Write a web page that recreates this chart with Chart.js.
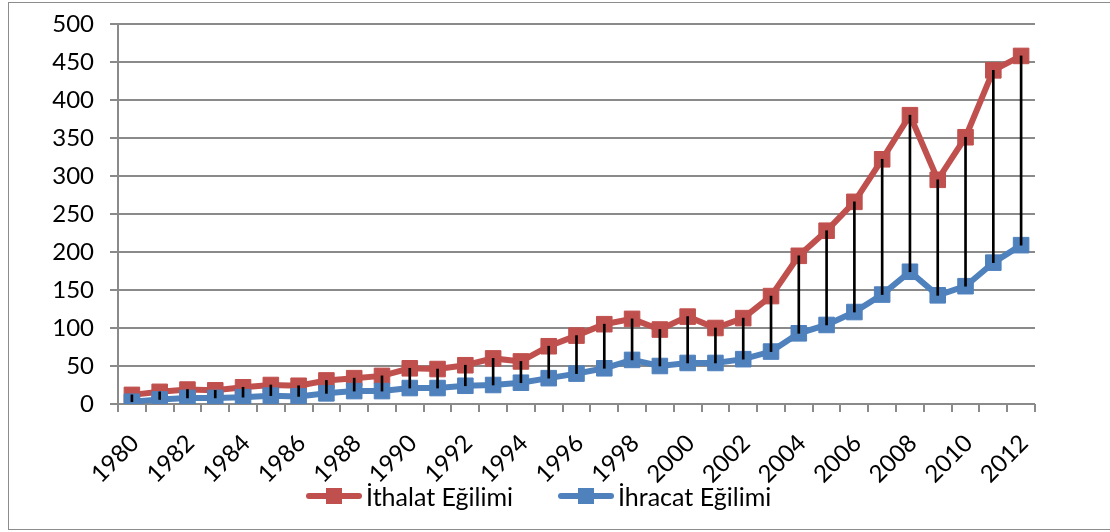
<!DOCTYPE html>
<html>
<head>
<meta charset="utf-8">
<script src="https://cdn.jsdelivr.net/npm/chart.js@4/dist/chart.umd.min.js"></script>
<style>
  html, body { margin: 0; padding: 0; background: #fff; }
  #wrap { position: relative; width: 1110px; height: 532px; overflow: hidden; font-family: Lato, sans-serif; }
  #frame { position: absolute; left: 8px; top: 2px; width: 1120px; height: 528px; border: 1px solid #8c8c8c; box-sizing: border-box; }
  #chart { position: absolute; left: 0; top: 0; }
  #legend { position: absolute; left: 306px; top: 481px; display: flex; align-items: center; font-size: 25px; color: #000; }
  .item { display: flex; align-items: center; }
  .key { position: relative; width: 56px; height: 6px; border-radius: 3px; margin-right: 4px; }
  .key span { position: absolute; left: 20px; top: -5px; width: 16px; height: 16px; }
</style>
</head>
<body>
<div id="wrap">
  <div id="frame"></div>
  <canvas id="chart" width="1110" height="532"></canvas>
  <div id="legend">
    <div class="item" style="width:252px"><div class="key" style="background:#C0504D"><span style="background:#C0504D"></span></div>İthalat Eğilimi</div>
    <div class="item"><div class="key" style="background:#4F81BD"><span style="background:#4F81BD"></span></div>İhracat Eğilimi</div>
  </div>
</div>
<script>
const years = [];
for (let y = 1980; y <= 2012; y++) years.push(String(y));

const ithalat = [12, 16, 19, 18, 22, 25, 24, 31, 34, 37, 47, 46, 51, 60, 56, 76, 90, 105, 112, 98, 115, 100, 113, 142, 195, 228, 266, 322, 380, 295, 351, 439, 458];
const ihracat = [3, 6, 8, 8, 9, 11, 10, 14, 17, 17, 21, 21, 24, 25, 28, 34, 40, 47, 58, 50, 54, 54, 59, 69, 93, 104, 121, 144, 174, 143, 155, 186, 209];

const yTicks = [0, 50, 100, 150, 200, 250, 300, 350, 400, 450, 500];

const RED = "#C0504D";
const BLUE = "#4F81BD";
const GRID = "#8a8a8a";

// high-low lines between the two series
const hiLow = ithalat.map((v, i) => [ihracat[i], v]);

const ctx = document.getElementById("chart").getContext("2d");
new Chart(ctx, {
  data: {
    labels: years,
    datasets: [
      {
        type: "bar",
        label: "hl",
        data: hiLow,
        backgroundColor: "#000",
        barThickness: 2,
        order: 0,
      },
      {
        type: "line",
        label: "İthalat Eğilimi",
        data: ithalat,
        borderColor: RED,
        backgroundColor: RED,
        borderWidth: 6,
        pointStyle: "rect",
        pointRadius: 11,
        pointBorderWidth: 1,
        tension: 0,
        order: 2,
      },
      {
        type: "line",
        label: "İhracat Eğilimi",
        data: ihracat,
        borderColor: BLUE,
        backgroundColor: BLUE,
        borderWidth: 6,
        pointStyle: "rect",
        pointRadius: 11,
        pointBorderWidth: 1,
        tension: 0,
        order: 1,
      },
    ],
  },
  options: {
    responsive: false,
    animation: false,
    layout: { padding: { left: 20, top: 24, right: 75, bottom: 0 } },
    plugins: {
      legend: { display: false },
      tooltip: { enabled: false },
    },
    scales: {
      x: {
        offset: true,
        grid: {
          offset: true,
          drawOnChartArea: false,
          drawTicks: true,
          tickLength: 8,
          color: GRID,
          lineWidth: 2,
        },
        border: { display: false },
        ticks: {
          autoSkip: false,
          maxRotation: 45,
          minRotation: 45,
          padding: 17,
          labelOffset: 3,
          color: "#000",
          font: { family: "Lato", size: 24 },
          callback: (v, i) => (i % 2 === 0 ? years[i] : ""),
        },
        afterFit: (s) => {
          s.height = 128;
          s.paddingLeft = 0;
          s.paddingRight = 0;
        },
      },
      y: {
        min: 0,
        max: 500,
        afterBuildTicks: (s) => { s.ticks = yTicks.map((v) => ({ value: v })); },
        grid: { color: GRID, lineWidth: 2, tickLength: 8 },
        border: { color: GRID, width: 2 },
        ticks: {
          padding: 16,
          color: "#000",
          font: { family: "Lato", size: 24 },
        },
        afterFit: (s) => {
          s.width = 98;
          s.paddingTop = 0;
          s.paddingBottom = 0;
        },
      },
    },
  },
});
</script>
</body>
</html>
